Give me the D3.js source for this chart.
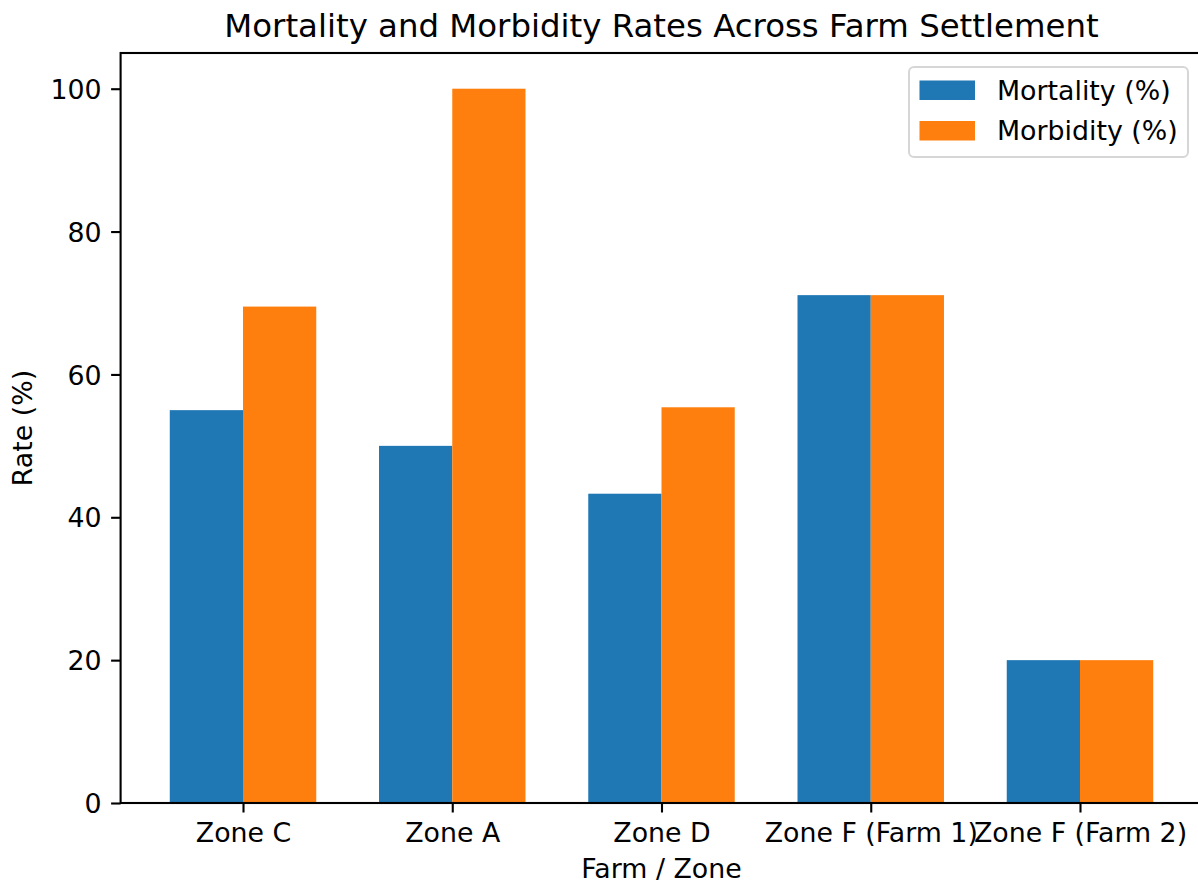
<!DOCTYPE html>
<html><head><meta charset="utf-8">
<script src="https://cdn.jsdelivr.net/npm/d3@7"></script>
<style>body{margin:0;background:#fff;} svg{display:block;font-family:"DejaVu Sans",sans-serif;}</style>
</head><body>
<script>
const categories = ["Zone C","Zone A","Zone D","Zone F (Farm 1)","Zone F (Farm 2)"];
const mortality = [55.0, 50.0, 43.3, 71.1, 20.0];
const morbidity = [69.5, 100.0, 55.4, 71.1, 20.0];
const seriesNames = ["Mortality (%)","Morbidity (%)"];
const colors = ["#1f77b4","#ff7f0e"];
const yTicks = [0,20,40,60,80,100];

const W=1198,H=886;
const mLeft=120.6,mRight=1202.4,mTop=53,mBottom=803;
const fs=26.8;
const svg=d3.select("body").append("svg").attr("width",W).attr("height",H);

const barW=0.35;
const x=d3.scaleLinear().domain([-0.585,categories.length-1+0.585]).range([mLeft,mRight]);
const y=d3.scaleLinear().domain([0,105]).range([mBottom,mTop]);

const series=[mortality,morbidity];
series.forEach((vals,si)=>{
  svg.append("g").selectAll("rect").data(vals).enter().append("rect")
    .attr("x",(d,i)=>x(i+(si===0?-barW:0)))
    .attr("width",(d,i)=>x(i+barW)-x(i))
    .attr("y",d=>y(d))
    .attr("height",d=>y(0)-y(d))
    .attr("fill",colors[si]);
});

// axes
const yAxis=d3.axisLeft(y).tickValues(yTicks).tickSize(9.5).tickPadding(9.5);
const gy=svg.append("g").attr("transform",`translate(${mLeft},0)`).call(yAxis);
const xAxis=d3.axisBottom(x).tickValues(d3.range(categories.length)).tickFormat(i=>categories[i]).tickSize(9.5).tickPadding(9.5);
const gx=svg.append("g").attr("transform",`translate(0,${mBottom})`).call(xAxis);
[gx,gy].forEach(g=>{
  g.select(".domain").remove();
  g.selectAll(".tick line").attr("stroke","#000").attr("stroke-width",2.1);
  g.selectAll(".tick text").attr("font-size",fs+"px").attr("fill","#000").attr("font-family","DejaVu Sans");
});
gx.selectAll(".tick text").attr("dy","0.76em");
gy.selectAll(".tick text").attr("dy","0.36em");
// spines
svg.append("rect").attr("x",mLeft).attr("y",mTop).attr("width",mRight-mLeft).attr("height",mBottom-mTop)
  .attr("fill","none").attr("stroke","#000").attr("stroke-width",2.1);

// title and labels
svg.append("text").attr("x",(mLeft+mRight)/2).attr("y",37).attr("text-anchor","middle")
  .attr("font-size","32.4px").text("Mortality and Morbidity Rates Across Farm Settlement");
svg.append("text").attr("x",(mLeft+mRight)/2).attr("y",878).attr("text-anchor","middle")
  .attr("font-size",fs+"px").text("Farm / Zone");
svg.append("text").attr("transform",`translate(32,${(mTop+mBottom)/2}) rotate(-90)`).attr("text-anchor","middle")
  .attr("font-size",fs+"px").text("Rate (%)");

// legend
const lg=svg.append("g");
lg.append("rect").attr("x",909).attr("y",67).attr("width",279).attr("height",90).attr("rx",5)
  .attr("fill","#fff").attr("fill-opacity",0.8).attr("stroke","#d6d6d6").attr("stroke-width",2);
seriesNames.forEach((n,i)=>{
  const yy=80.5+i*40.5;
  lg.append("rect").attr("x",919.5).attr("y",yy).attr("width",55.5).attr("height",19.5).attr("fill",colors[i]);
  lg.append("text").attr("x",997).attr("y",yy+19).attr("font-size",fs+"px").text(n);
});
</script>
</body></html>
